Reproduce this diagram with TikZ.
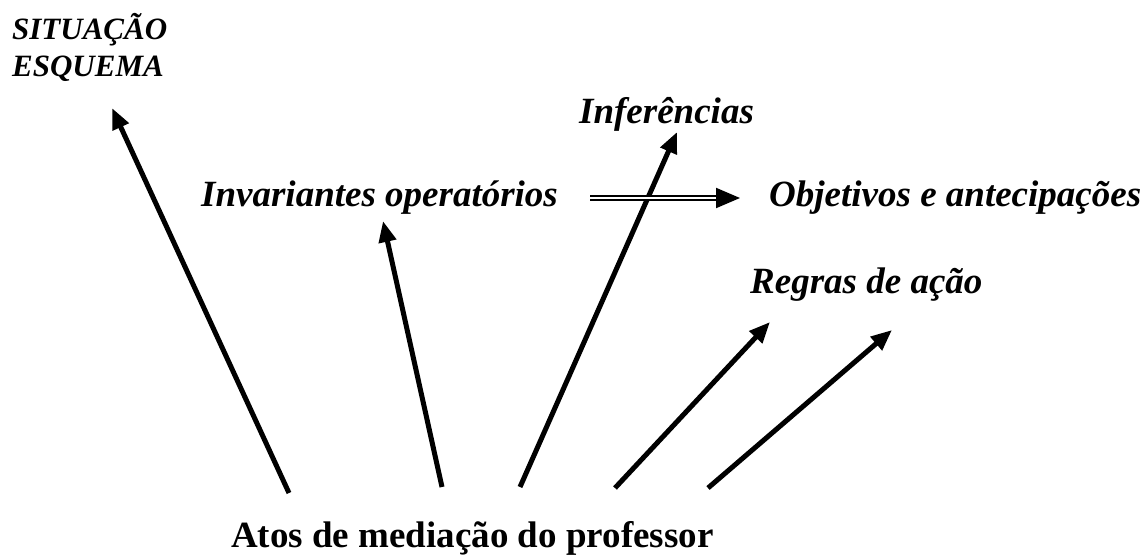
\documentclass[tikz,border=0pt]{standalone}
\usepackage{fontspec}
\setmainfont{Liberation Serif}
\usetikzlibrary{arrows.meta}
\tikzset{
  lab/.style={font=\fontsize{37}{40}\selectfont\bfseries\itshape, inner sep=0pt, anchor=base west},
  sitlab/.style={font=\fontsize{31}{37}\selectfont\bfseries\itshape, inner sep=0pt, align=left, anchor=north west},
  mainlab/.style={font=\fontsize{37}{40}\selectfont\bfseries, inner sep=0pt, anchor=base west},
  arr/.style={line width=5pt, -{Triangle[length=21pt,width=17pt]}},
  dbl/.style={double, double distance=2.6pt, line width=2pt, -{Triangle[length=24pt,width=20pt]}}
}
\begin{document}
\begin{tikzpicture}[x=1pt,y=-1pt]
\useasboundingbox (0,0) rectangle (1147,556);
% labels
\node[sitlab] (sit) at (12,13) {SITUAÇÃO\\ESQUEMA};
\node[lab] (inf) at (579,124) {Inferências};
\node[lab] (inv) at (201,206) {Invariantes operatórios};
\node[lab] (obj) at (769,206) {Objetivos e antecipações};
\node[lab] (reg) at (750,293) {Regras de ação};
\node[mainlab] (atos) at (231,547) {Atos de mediação do professor};
% arrow ends
\coordinate (s1) at (289,493); \coordinate (t1) at (112,108);
\coordinate (s2) at (442,487); \coordinate (t2) at (383,221);
\coordinate (s3) at (520,487); \coordinate (t3) at (677,132);
\coordinate (s4) at (615,488); \coordinate (t4) at (770,322);
\coordinate (s5) at (708,488); \coordinate (t5) at (892,330);
\coordinate (d1) at (590,198); \coordinate (d2) at (740,198);
\draw[arr] (s1) -- (t1);
\draw[arr] (s2) -- (t2);
\draw[arr] (s3) -- (t3);
\draw[arr] (s4) -- (t4);
\draw[arr] (s5) -- (t5);
\draw[dbl] (d1) -- (d2);
\end{tikzpicture}
\end{document}
